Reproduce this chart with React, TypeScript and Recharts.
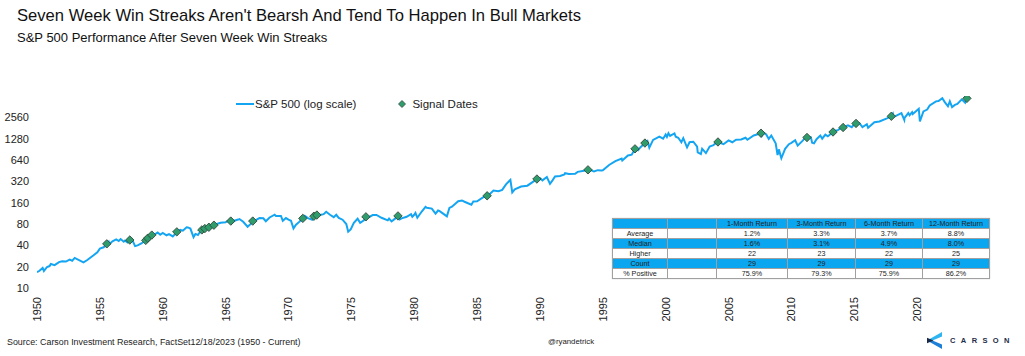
import React from 'react';
import { ComposedChart, Line, Scatter, XAxis, YAxis, Legend } from 'recharts';

// S&P 500 closes (year as decimal, index level), split by decade
const spx1950s: [number, number][] = [
  [1950.0, 16.7], [1950.2, 17.5], [1950.45, 19.2], [1950.55, 17.4], [1950.8, 19.8], [1951.0, 20.4],
  [1951.1, 21.8], [1951.4, 21.0], [1951.75, 23.2], [1952.0, 23.8], [1952.3, 23.6], [1952.6, 25.2],
  [1952.8, 24.3], [1953.0, 26.6], [1953.3, 25.0], [1953.7, 23.0], [1954.0, 24.8], [1954.5, 29.0],
  [1954.8, 32.0], [1955.0, 36.0], [1955.3, 37.5], [1955.55, 42.0], [1955.7, 45.0], [1955.75, 41.5],
  [1956.0, 45.5], [1956.3, 48.5], [1956.5, 46.0], [1956.65, 49.0], [1956.9, 45.0], [1957.0, 46.7],
  [1957.2, 44.0], [1957.38, 47.5], [1957.55, 49.0], [1957.8, 39.0], [1958.0, 40.0], [1958.3, 42.5],
  [1958.65, 47.0], [1958.81, 50.5], [1959.0, 55.2], [1959.13, 55.8], [1959.4, 57.5], [1959.6, 60.5],
  [1959.8, 56.5],
];
const spx1960s: [number, number][] = [
  [1960.0, 59.9], [1960.3, 55.5], [1960.5, 57.5], [1960.8, 53.4], [1961.0, 58.1], [1961.12, 62.0],
  [1961.4, 66.0], [1961.6, 64.5], [1961.9, 72.0], [1962.0, 71.5], [1962.2, 69.0], [1962.45, 52.3],
  [1962.6, 58.0], [1962.8, 56.0], [1963.0, 63.1], [1963.11, 66.0], [1963.35, 69.0], [1963.5, 69.5],
  [1963.67, 72.0], [1963.9, 72.0], [1964.07, 77.0], [1964.3, 80.0], [1964.6, 83.5], [1965.0, 84.75],
  [1965.1, 87.0], [1965.41, 88.0], [1965.48, 82.0], [1965.7, 89.0], [1966.0, 92.4], [1966.1, 94.0],
  [1966.4, 86.0], [1966.75, 73.2], [1967.0, 80.3], [1967.16, 88.0], [1967.4, 91.0], [1967.7, 97.0],
  [1968.0, 96.5], [1968.2, 87.7], [1968.5, 99.0], [1968.9, 108.4], [1969.0, 103.9], [1969.4, 104.0],
  [1969.55, 89.0], [1969.8, 97.0],
];
const spx1970s: [number, number][] = [
  [1970.0, 92.1], [1970.2, 89.0], [1970.4, 69.3], [1970.6, 78.0], [1970.9, 87.0], [1971.0, 92.15],
  [1971.14, 96.0], [1971.3, 104.0], [1971.55, 97.0], [1971.88, 92.0], [1972.02, 103.0], [1972.26, 107.0],
  [1972.5, 107.0], [1972.8, 110.0], [1973.0, 119.0], [1973.3, 108.0], [1973.6, 100.0], [1973.8, 108.0],
  [1974.0, 97.55], [1974.3, 92.0], [1974.6, 80.0], [1974.75, 62.3], [1974.95, 67.0], [1975.2, 83.0],
  [1975.5, 95.0], [1975.7, 83.0], [1976.0, 90.19], [1976.16, 101.0], [1976.4, 100.0], [1976.7, 107.0],
  [1977.0, 107.46], [1977.4, 98.0], [1977.9, 90.0], [1978.0, 95.1], [1978.2, 86.9], [1978.5, 96.0],
  [1978.71, 104.0], [1978.85, 93.0], [1979.0, 96.1], [1979.4, 101.0], [1979.75, 110.0], [1979.85, 101.0],
];
const spx1980s: [number, number][] = [
  [1980.0, 107.94], [1980.1, 115.0], [1980.25, 98.0], [1980.6, 120.0], [1980.9, 140.0], [1981.0, 135.76],
  [1981.4, 132.0], [1981.7, 112.0], [1981.9, 124.0], [1982.0, 122.55], [1982.3, 112.0], [1982.6, 102.4],
  [1982.8, 135.0], [1983.0, 140.64], [1983.5, 168.0], [1983.8, 172.0], [1984.0, 164.93], [1984.55, 150.0],
  [1984.7, 166.0], [1985.0, 167.24], [1985.5, 191.0], [1985.8, 200.0], [1986.0, 211.28], [1986.3, 238.0],
  [1986.7, 232.0], [1987.0, 242.17], [1987.3, 290.0], [1987.65, 336.0], [1987.8, 224.0], [1988.0, 247.08],
  [1988.5, 270.0], [1989.0, 277.72], [1989.5, 320.0], [1989.76, 345.0], [1989.8, 340.0],
];
const spx1990s: [number, number][] = [
  [1990.0, 353.4], [1990.2, 330.0], [1990.55, 368.0], [1990.8, 295.0], [1991.0, 330.22], [1991.2, 375.0],
  [1991.6, 380.0], [1991.95, 400.0], [1992.0, 417.09], [1992.3, 405.0], [1992.8, 410.0], [1993.0, 435.71],
  [1993.5, 450.0], [1993.82, 465.0], [1994.0, 466.45], [1994.3, 440.0], [1994.6, 460.0], [1994.9, 455.0],
  [1995.0, 459.27], [1995.5, 545.0], [1996.0, 615.93], [1996.5, 670.0], [1996.55, 630.0], [1997.0, 740.74],
  [1997.3, 760.0], [1997.56, 920.0], [1997.8, 876.0], [1998.0, 970.43], [1998.35, 1110.0], [1998.55, 1186.0],
  [1998.7, 957.0], [1999.0, 1229.23], [1999.5, 1370.0], [1999.8, 1280.0],
];
const spx2000s: [number, number][] = [
  [2000.0, 1469.25], [2000.1, 1360.0], [2000.22, 1527.0], [2000.35, 1400.0], [2000.7, 1520.0], [2000.8, 1360.0],
  [2001.0, 1320.28], [2001.25, 1140.0], [2001.4, 1300.0], [2001.7, 965.0], [2001.9, 1140.0], [2002.0, 1148.08],
  [2002.2, 1160.0], [2002.5, 990.0], [2002.55, 820.0], [2002.8, 777.0], [2002.9, 920.0], [2003.0, 879.82],
  [2003.2, 800.0], [2003.5, 990.0], [2003.8, 1040.0], [2004.0, 1111.92], [2004.16, 1150.0], [2004.6, 1070.0],
  [2005.0, 1211.92], [2005.3, 1140.0], [2005.6, 1240.0], [2006.0, 1248.29], [2006.35, 1320.0], [2006.5, 1235.0],
  [2007.0, 1418.3], [2007.2, 1450.0], [2007.58, 1530.0], [2007.65, 1410.0], [2007.78, 1565.0], [2008.0, 1468.36],
  [2008.2, 1270.0], [2008.4, 1420.0], [2008.75, 1100.0], [2008.9, 752.0], [2009.0, 903.25], [2009.2, 677.0],
  [2009.5, 920.0], [2009.8, 1070.0],
];
const spx2010s: [number, number][] = [
  [2010.0, 1115.1], [2010.3, 1217.0], [2010.5, 1022.0], [2010.9, 1200.0], [2011.0, 1257.64], [2011.24, 1330.0],
  [2011.3, 1363.0], [2011.55, 1340.0], [2011.65, 1120.0], [2011.8, 1099.0], [2012.0, 1257.6], [2012.3, 1419.0],
  [2012.45, 1278.0], [2012.7, 1460.0], [2012.9, 1380.0], [2013.0, 1426.19], [2013.31, 1590.0], [2013.4, 1650.0],
  [2013.7, 1690.0], [2014.0, 1848.36], [2014.11, 1840.0], [2014.5, 1980.0], [2014.8, 1862.0], [2015.0, 2058.9],
  [2015.14, 2100.0], [2015.4, 2130.0], [2015.65, 1867.0], [2016.0, 2043.94], [2016.1, 1829.0], [2016.6, 2190.0],
  [2017.0, 2238.83], [2017.6, 2480.0], [2017.95, 2650.0], [2018.07, 2870.0], [2018.12, 2580.0], [2018.75, 2930.0],
  [2018.98, 2351.0], [2019.0, 2506.85], [2019.3, 2945.0], [2019.4, 2744.0], [2019.6, 3025.0], [2019.65, 2850.0],
];
const spx2020s: [number, number][] = [
  [2020.0, 3230.78], [2020.13, 3386.0], [2020.22, 2237.0], [2020.5, 3100.0], [2020.8, 3300.0], [2021.0, 3756.07],
  [2021.5, 4300.0], [2021.7, 4350.0], [2022.0, 4766.18], [2022.2, 4200.0], [2022.45, 3667.0], [2022.6, 4305.0],
  [2022.78, 3577.0], [2023.0, 3839.5], [2023.2, 3950.0], [2023.55, 4589.0], [2023.82, 4117.0], [2023.96, 4740.0],
];

// end dates of seven week win streaks
const signalDates = [
  1955.55, 1957.38, 1958.65, 1958.81, 1959.13, 1961.12, 1963.11, 1963.35, 1963.67, 1964.07,
  1965.41, 1967.16, 1971.14, 1972.02, 1972.26, 1976.16, 1978.71, 1985.8, 1989.76, 1993.82,
  1997.56, 1998.35, 2004.16, 2007.58, 2011.24, 2013.31, 2014.11, 2015.14, 2017.95, 2023.96,
];
const signalValues = [
  42.0, 47.5, 47.0, 50.5, 55.8, 62.0, 66.0, 69.0, 72.0, 77.0,
  88.0, 88.0, 96.0, 103.0, 107.0, 101.0, 104.0, 200.0, 345.0, 465.0,
  920.0, 1110.0, 1150.0, 1530.0, 1330.0, 1590.0, 1840.0, 2100.0, 2650.0, 4740.0,
];

const yTicks = [10, 20, 40, 80, 160, 320, 640, 1280, 2560];
const xTicks = [1950, 1955, 1960, 1965, 1970, 1975, 1980, 1985, 1990, 1995, 2000, 2005, 2010, 2015, 2020];

const statColumns = ['1-Month Return', '3-Month Return', '6-Month Return', '12-Month Return'];
const statRows = ['Average', 'Median', 'Higher', 'Count', '% Positive'];
const statValues = [
  ['1.2%', '3.3%', '3.7%', '8.8%'],
  ['1.6%', '3.1%', '4.9%', '8.0%'],
  ['22', '23', '22', '25'],
  ['29', '29', '29', '29'],
  ['75.9%', '79.3%', '75.9%', '86.2%'],
];

const FONT = '"Liberation Sans", Arial, Helvetica, sans-serif';
const LINE_BLUE = '#14A5F2';
const TABLE_BLUE = '#0AA6EF';
const DIAMOND_FILL = '#2E9C6B';
const DIAMOND_EDGE = '#35483E';

const lineData = [...spx1950s, ...spx1960s, ...spx1970s, ...spx1980s, ...spx1990s, ...spx2000s, ...spx2010s, ...spx2020s]
  .map(([x, y]) => ({ x, y }));
const signalData = signalDates.map((x, i) => ({ x, y: signalValues[i] }));

const Diamond = (props: any) => {
  const { cx, cy } = props;
  const r = 4.2;
  return (
    <polygon
      points={`${cx},${cy - r} ${cx + r},${cy} ${cx},${cy + r} ${cx - r},${cy}`}
      fill={DIAMOND_FILL}
      stroke={DIAMOND_EDGE}
      strokeWidth={0.9}
    />
  );
};

const YearTick = (props: any) => {
  const { x, y, payload } = props;
  const bx = x + 4;
  const by = y + 1;
  return (
    <text x={bx} y={by} transform={`rotate(-90 ${bx} ${by})`} textAnchor="end" fontSize={11} fill="#222" fontFamily={FONT}>
      {payload.value}
    </text>
  );
};

const LegendBox = () => (
  <div style={{ display: 'flex', alignItems: 'center', fontFamily: FONT, fontSize: 11.5, color: '#222', whiteSpace: 'nowrap' }}>
    <svg width={18} height={10}><line x1={0} y1={5} x2={18} y2={5} stroke={LINE_BLUE} strokeWidth={2} /></svg>
    <span style={{ marginLeft: 1 }}>S&amp;P 500 (log scale)</span>
    <svg width={12} height={10} style={{ marginLeft: 40 }}>
      <polygon points="6,1.5 9.5,5 6,8.5 2.5,5" fill={DIAMOND_FILL} stroke={DIAMOND_EDGE} strokeWidth={0.8} />
    </svg>
    <span style={{ marginLeft: 4 }}>Signal Dates</span>
  </div>
);

const cell: React.CSSProperties = {
  border: '1px solid #A0A0A0',
  padding: 0,
  height: 9,
  lineHeight: '9px',
  textAlign: 'center',
  fontSize: 7.2,
  fontFamily: '"Liberation Sans Narrow", "Liberation Sans", Arial, sans-serif',
  color: '#222',
  whiteSpace: 'nowrap',
  overflow: 'hidden',
};

const StatsTable = () => (
  <table
    style={{
      position: 'absolute', left: 612, top: 218, width: 377, borderCollapse: 'collapse', tableLayout: 'fixed',
      boxShadow: '0 0 1px #bbb', background: '#fff',
    }}
  >
    <colgroup>
      <col style={{ width: 55 }} />
      <col style={{ width: 49 }} />
      <col style={{ width: 71 }} />
      <col style={{ width: 68 }} />
      <col style={{ width: 67 }} />
      <col style={{ width: 67 }} />
    </colgroup>
    <tbody>
      <tr style={{ background: TABLE_BLUE }}>
        <td style={cell}></td>
        <td style={cell}></td>
        {statColumns.map(c => <td key={c} style={cell}>{c}</td>)}
      </tr>
      {statRows.map((r, i) => (
        <tr key={r} style={{ background: i % 2 === 1 ? TABLE_BLUE : '#fff' }}>
          <td style={cell}>{r}</td>
          <td style={cell}></td>
          {statValues[i].map((v, j) => <td key={j} style={cell}>{v}</td>)}
        </tr>
      ))}
    </tbody>
  </table>
);

const CarsonLogo = () => (
  <div style={{ position: 'absolute', left: 926, top: 332, width: 99, display: 'flex', alignItems: 'center', whiteSpace: 'nowrap' }}>
    <svg width={17} height={17} viewBox="0 0 17 17" style={{ flex: 'none' }}>
      <polygon points="16,0 16,4.5 6.5,8.5 1,8.5" fill="#2FB4F2" />
      <polygon points="1,8.5 6.5,8.5 16,12.5 16,17" fill="#1C7FD8" />
      <polygon points="1,5.8 7.5,8.5 1,11.2" fill="#1A2B4A" />
    </svg>
    <span style={{ marginLeft: 7, fontFamily: FONT, fontWeight: 700, fontSize: 7.5, letterSpacing: 5.4, color: '#1E2C4A' }}>
      CARSON
    </span>
  </div>
);

export default function App() {
  return (
    <div style={{ position: 'absolute', left: 0, top: 0, width: 1025, height: 356, background: '#fff', fontFamily: FONT, overflow: 'hidden' }}>
      <div style={{ position: 'absolute', left: 17, top: 6, fontSize: 16.6, color: '#111', whiteSpace: 'nowrap' }}>
        Seven Week Win Streaks Aren't Bearsh And Tend To Happen In Bull Markets
      </div>
      <div style={{ position: 'absolute', left: 17, top: 30, fontSize: 13, color: '#111', whiteSpace: 'nowrap' }}>
        S&amp;P 500 Performance After Seven Week Win Streaks
      </div>

      <div style={{ position: 'absolute', left: 0, top: 0 }}>
        <ComposedChart width={1025} height={356} margin={{ top: 96, right: 45, bottom: 38, left: 0 }}>
          <XAxis
            dataKey="x"
            type="number"
            domain={[1950, 2025]}
            ticks={xTicks}
            interval={0}
            axisLine={false}
            tickLine={false}
            height={30}
            tick={<YearTick />}
            allowDataOverflow
          />
          <YAxis
            type="number"
            scale="log"
            domain={[10, 5120]}
            ticks={yTicks}
            interval={0}
            allowDataOverflow
            axisLine={false}
            tickLine={false}
            width={37}
            tick={{ fontSize: 11, fill: '#222', fontFamily: FONT }}
          />
          <Legend
            layout="horizontal"
            verticalAlign="middle"
            align="center"
            wrapperStyle={{ left: 236, top: 98, width: 320 }}
            content={() => <LegendBox />}
          />
          <Line
            data={lineData}
            dataKey="y"
            type="linear"
            stroke={LINE_BLUE}
            strokeWidth={2}
            dot={false}
            isAnimationActive={false}
            name="S&P 500 (log scale)"
          />
          <Scatter
            data={signalData}
            dataKey="y"
            shape={<Diamond />}
            isAnimationActive={false}
            name="Signal Dates"
          />
        </ComposedChart>
      </div>

      <StatsTable />

      <div style={{ position: 'absolute', left: 7, top: 337, fontSize: 8.9, color: '#222', whiteSpace: 'nowrap' }}>
        Source: Carson Investment Research, FactSet12/18/2023 (1950 - Current)
      </div>
      <div style={{ position: 'absolute', left: 548, top: 337, fontSize: 7.8, color: '#222', whiteSpace: 'nowrap' }}>
        @ryandetrick
      </div>
      <CarsonLogo />
    </div>
  );
}
